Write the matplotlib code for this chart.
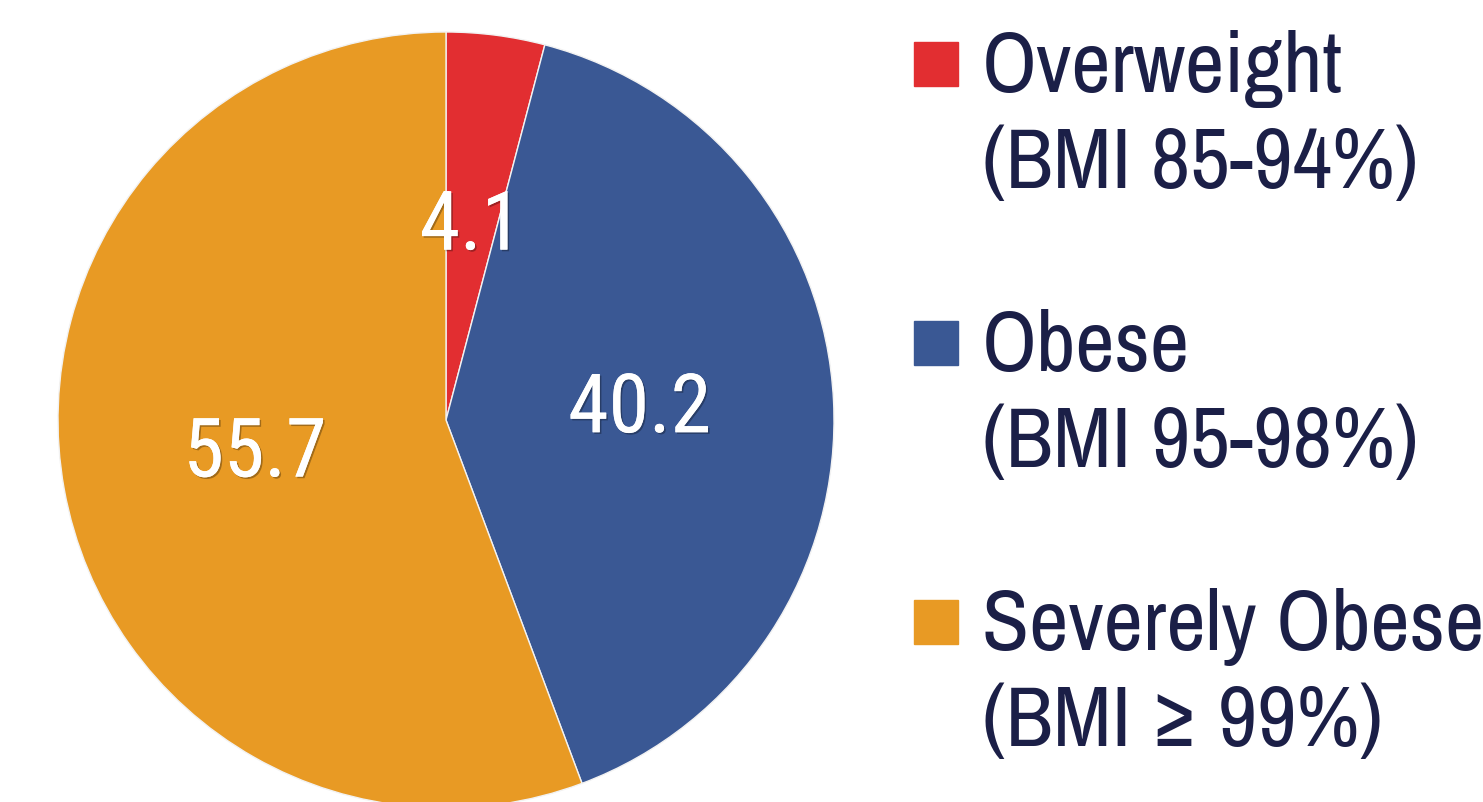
import matplotlib
matplotlib.use("Agg")
import matplotlib.pyplot as plt
import matplotlib.patheffects as pe
from matplotlib.patches import Rectangle

# BMI category shares (%)
categories = ["Overweight", "Obese", "Severely Obese"]
ranges = ["(BMI 85-94%)", "(BMI 95-98%)", "(BMI \u2265 99%)"]
shares = [4.1, 40.2, 55.7]
colors = ["#E22E31", "#3A5894", "#E89A24"]

text_color = "#1B1F47"
legend_font = ["Liberation Sans Narrow", "Arial Narrow", "Archivo Narrow",
               "Roboto Condensed", "Liberation Sans", "DejaVu Sans"]
value_font = ["Liberation Sans Narrow", "Arial Narrow", "Roboto Condensed",
              "Liberation Sans", "DejaVu Sans"]

W, H = 1483, 802
fig = plt.figure(figsize=(W / 100, H / 100), dpi=100)

# pie centre at (446, 420) px, radius 388 px
R = 388
ax = fig.add_axes([(446 - R) / W, (H - 420 - R) / H, 2 * R / W, 2 * R / H])
wedges, texts, autotexts = ax.pie(
    shares, colors=colors, startangle=90, counterclock=False,
    autopct="%.1f", pctdistance=0.5,
    wedgeprops=dict(edgecolor="#f2f2f2", linewidth=1.0),
)
ax.set_xlim(-1, 1)
ax.set_ylim(-1, 1)
ax.set_aspect("equal")
ax.axis("off")

for t in autotexts:
    t.set_color("white")
    t.set_fontsize(59)
    t.set_family(value_font)
    t.set_path_effects([
        pe.withSimplePatchShadow(offset=(1.2, -1.2), shadow_rgbFace="black", alpha=0.3),
        pe.Normal(),
    ])

# legend, drawn by hand
for i, (cat, rng, col) in enumerate(zip(categories, ranges, colors)):
    top = 42 + i * 279
    fig.patches.append(Rectangle((914 / W, (H - top - 44) / H), 44 / W, 44 / H,
                                 transform=fig.transFigure, color=col, zorder=3))
    base1 = 92 + i * 279
    fig.text(982 / W, (H - base1) / H, cat, fontsize=62, color=text_color,
             family=legend_font, va="baseline", ha="left")
    fig.text(982 / W, (H - base1 - 96) / H, rng, fontsize=62, color=text_color,
             family=legend_font, va="baseline", ha="left")

fig.savefig("out.png", dpi=100)
